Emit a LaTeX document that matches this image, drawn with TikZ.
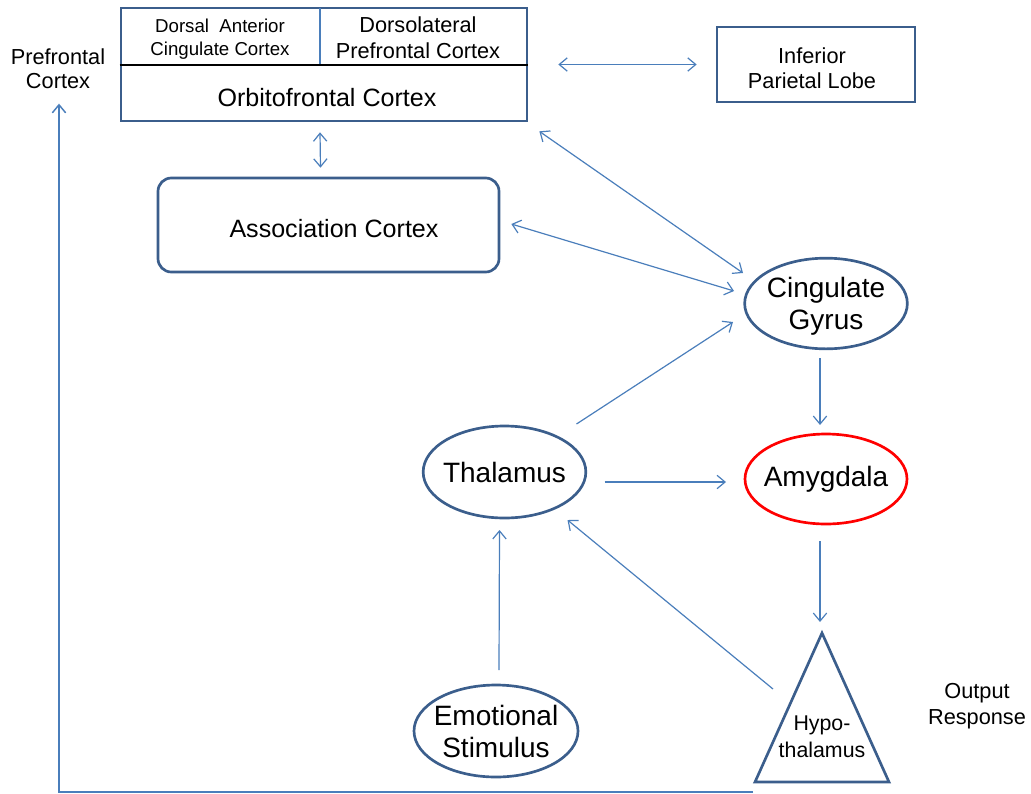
\documentclass[tikz,border=0pt]{standalone}
\usepackage{fontspec}
\setmainfont{Liberation Sans}
\usetikzlibrary{arrows.meta,calc,shapes.geometric}
\definecolor{boxblue}{HTML}{3B5E8C}
\definecolor{lineblue}{HTML}{4A7EBB}
\definecolor{ampred}{HTML}{FF0000}
\tikzset{
  boxline/.style={draw=boxblue,line width=2pt},
  conn/.style={draw=lineblue,line width=0.9pt},
  bi/.style={conn,{Straight Barb[length=6pt,width=10pt]}-{Straight Barb[length=6pt,width=10pt]}},
  uni/.style={conn,-{Straight Barb[length=6pt,width=10pt]}},
  bigtxt/.style={font=\fontsize{21}{24}\selectfont,align=center},
  midtxt/.style={font=\fontsize{16.3}{19.5}\selectfont,align=center},
}
\begin{document}
\begin{tikzpicture}[x=0.75pt,y=-0.75pt]
\useasboundingbox (0,0) rectangle (1031,793);
% Prefrontal cortex block
\node[boxline,rectangle,minimum width=304.5pt,minimum height=84.75pt,inner sep=0pt] (top) at (324,64.5) {};
\draw[black,line width=1.5pt] (top.west) -- (top.east);
\coordinate (vtop) at (320,8);
\coordinate (vbot) at (320,64);
\draw[lineblue,line width=0.8pt] (vtop) -- (vbot);
\node[font=\fontsize{14}{17}\selectfont,align=center] (dacc) at (220,39) {Dorsal\ \ Anterior\\Cingulate Cortex};
\node[midtxt] (dlpfc) at (418,38) {Dorsolateral\\Prefrontal Cortex};
\node[font=\fontsize{18.8}{22}\selectfont] (ofc) at (327,98) {Orbitofrontal Cortex};
\node[midtxt,font=\fontsize{16.3}{18}\selectfont] (pfc) at (58,69) {Prefrontal\\Cortex};
% Inferior parietal lobe
\node[boxline,rectangle,minimum width=148.5pt,minimum height=56.25pt,inner sep=0pt] (ipl) at (816,64.5) {};
\node[midtxt,font=\fontsize{16.3}{18.75}\selectfont] (ipltxt) at (812,68) {Inferior\\Parietal Lobe};
% Association cortex
\node[boxline,rectangle,rounded corners=10pt,minimum width=255.75pt,minimum height=70.5pt,inner sep=0pt] (assoc) at (328.5,225) {};
\node[font=\fontsize{18.8}{22}\selectfont] (assoctxt) at (334,229) {Association Cortex};
% Ellipses
\node[bigtxt] (cg) at (826,306) {Cingulate\\Gyrus};
\draw[boxline] (826,303.5) ellipse [x radius=61pt, y radius=34pt];
\node[bigtxt] (th) at (504.5,472) {Thalamus};
\draw[boxline] (th.center) ellipse [x radius=61pt, y radius=34.5pt];
\node[bigtxt] (am) at (826,479) {Amygdala};
\draw[boxline,draw=ampred] (am.center) ellipse [x radius=60.75pt, y radius=33.75pt];
\node[bigtxt] (es) at (496,731) {Emotional\\Stimulus};
\draw[boxline] (es.center) ellipse [x radius=61.5pt, y radius=34.5pt];
% Hypothalamus triangle
\coordinate (hyapex) at (822,633);
\coordinate (hybl) at (755,782);
\coordinate (hybr) at (889,782);
\draw[boxline,line join=miter] (hyapex) -- (hybr) -- (hybl) -- cycle;
\node[font=\fontsize{16}{20}\selectfont,align=center] (hy) at (822,737) {Hypo-\\thalamus};
\node[midtxt] (out) at (977,706) {Output\\Response};
% Connectors
\draw[bi] ($(top.east)+(30,0)$) -- ($(ipl.west)+(-19,0)$);
\draw[bi] ($(top.south)+(-4,10)$) -- ($(assoc.north)+(-8,-9)$);
\draw[bi] ($(top.south east)+(11,9)$) -- ($(cg.center)+(-83,-33)$);
\draw[bi] ($(assoc.east)+(11,-1)$) -- ($(cg.center)+(-92,-15)$);
\draw[uni] ($(th.center)+(72,-48)$) -- ($(cg.center)+(-93,16)$);
\draw[uni] ($(th.center)+(100,10)$) -- ($(am.center)+(-100,3)$);
\draw[uni] ($(cg.center)+(-6,52)$) -- ($(am.center)+(-6,-54)$);
\draw[uni] ($(am.center)+(-6,62)$) -- ($(hyapex)+(-2,-11)$);
\draw[uni] ($(hyapex)+(-49,56)$) -- ($(th.center)+(63,48)$);
\draw[uni] ($(es.center)+(3,-61)$) -- ($(th.center)+(-5,58)$);
% Feedback to prefrontal cortex
\coordinate (fbstart) at (753,792);
\coordinate (fbcorner) at (59,792);
\draw[conn,line width=1.1pt,-{Straight Barb[length=6pt,width=10pt]}] (fbstart) -- (fbcorner) -- ($(pfc.south)+(1,10)$);
\end{tikzpicture}
\end{document}
